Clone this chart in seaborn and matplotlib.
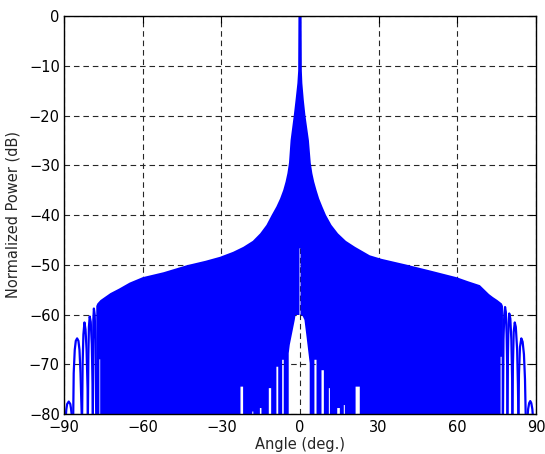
import matplotlib
matplotlib.use("Agg")
import matplotlib.pyplot as plt
import numpy as np
import pandas as pd
import seaborn as sns

# ---------------- data ----------------
x_ticks = [-90, -60, -30, 0, 30, 60, 90]
y_ticks = [-80, -70, -60, -50, -40, -30, -20, -10, 0]

# upper envelope of the dense side-lobe region (angle deg, dB), left -> right
env_angle = [-77.7, -77.3, -76.1, -72.3, -69.0, -65.0, -60.0, -52.0, -43.2, -36.0,
             -30.5, -25.5, -21.6, -18.0, -15.2, -12.8, -10.8, -9.0, -7.6, -6.4,
             -5.5, -4.8, -4.2, -3.6, -2.4, -1.7, -1.0, -0.7, -0.6,
             0.6, 0.7, 0.9, 1.45, 2.1, 3.4, 4.1, 4.7, 5.4, 6.3, 7.3,
             8.6, 9.9, 12.0, 14.5, 17.5, 21.0, 26.6, 31.0, 40.0, 50.0,
             59.7, 64.0, 68.6, 72.1, 73.6, 75.3, 77.0, 77.4]
env_db = [-58.3, -57.8, -57.1, -55.7, -54.8, -53.6, -52.5, -51.5, -50.1, -49.2,
          -48.4, -47.4, -46.4, -45.2, -43.7, -42.0, -40.0, -38.3, -36.7, -35.0,
          -33.3, -31.6, -29.5, -25.0, -20.1, -16.9, -13.5, -11.0, 0.0,
          0.0, -11.0, -13.5, -16.9, -20.1, -25.0, -29.5, -31.6, -33.3, -35.0, -36.7,
          -38.4, -40.0, -42.0, -43.7, -45.2, -46.4, -48.1, -48.8, -49.9, -51.2,
          -52.5, -53.3, -54.1, -55.9, -56.5, -57.1, -57.8, -58.3]

# lower boundary of the dense region (white null gaps), left -> right
low_angle = [-77.7, -76.5, -76.5, -76.2, -76.2,
             -22.7, -22.7, -21.7, -21.7,
             -18.2, -18.2, -17.8, -17.8,
             -15.3, -15.3, -14.7, -14.7,
             -11.9, -11.9, -11.0, -11.0,
             -9.0, -9.0, -8.3, -8.3,
             -6.8, -6.8, -6.2, -6.2,
             -4.3, -4.3, -3.9, -2.0, -1.7, -0.2, -0.2, 0.2, 0.2, 1.0, 1.7, 2.5, 3.7, 3.7,
             5.5, 5.5, 6.3, 6.3,
             8.2, 8.2, 9.1, 9.1,
             11.0, 11.0, 11.4, 11.4,
             14.2, 14.2, 15.2, 15.2,
             16.7, 16.7, 17.1, 17.1,
             21.2, 21.2, 22.8, 22.8,
             76.5, 76.5, 76.9, 76.9, 77.4]
low_db = [-81, -81, -69.0, -69.0, -81,
          -81, -74.5, -74.5, -81,
          -81, -79.5, -79.5, -81,
          -81, -78.8, -78.8, -81,
          -81, -74.8, -74.8, -81,
          -81, -70.5, -70.5, -81,
          -81, -69.1, -69.1, -81,
          -81, -67.8, -66.1, -61.1, -60.1, -60.1, -46.7, -46.7, -60.1, -60.3, -61.1, -64.5, -69.8, -81,
          -81, -69.1, -69.1, -81,
          -81, -71.2, -71.2, -81,
          -81, -74.8, -74.8, -81,
          -81, -78.8, -78.8, -81,
          -81, -78.2, -78.2, -81,
          -81, -74.5, -74.5, -81,
          -81, -68.5, -68.5, -81, -81]

# separated side lobes near endfire (angle, dB)
lobe_left_1 = [(-89.4, -81), (-89.1, -79.0), (-88.8, -78.0), (-88.2, -77.5), (-87.6, -78.0), (-87.3, -79.0), (-86.9, -81)]
lobe_left_2 = [(-86.5, -81), (-86.3, -71.8), (-85.9, -67.1), (-85.5, -65.3), (-85.0, -64.8), (-84.5, -65.3), (-84.1, -67.1), (-83.7, -71.8), (-83.2, -81)]
lobe_left_3 = [(-83.1, -81), (-82.9, -70.0), (-82.6, -64.0), (-82.2, -61.6), (-81.8, -63.0), (-81.4, -67.0), (-81.0, -75.0), (-80.9, -81)]
lobe_left_4 = [(-80.9, -81), (-80.7, -68.0), (-80.5, -62.5), (-80.2, -60.4), (-79.8, -61.5), (-79.4, -66.0), (-79.1, -74.0), (-79.0, -81)]
lobe_left_5 = [(-79.0, -81), (-78.9, -66.0), (-78.8, -61.0), (-78.6, -58.8), (-78.3, -60.0), (-78.0, -65.0), (-77.7, -81)]
lobe_right_5 = [(77.4, -81), (77.6, -65.0), (77.9, -60.0), (78.2, -58.5), (78.5, -59.5), (78.8, -64.0), (79.0, -70.0), (79.1, -81)]
lobe_right_4 = [(79.1, -81), (79.3, -68.0), (79.5, -62.0), (79.8, -59.8), (80.2, -60.8), (80.6, -65.0), (80.9, -73.0), (81.0, -81)]
lobe_right_3 = [(81.0, -81), (81.2, -70.0), (81.5, -63.5), (81.9, -61.6), (82.3, -62.5), (82.8, -67.0), (83.1, -74.0), (83.3, -81)]
lobe_right_2 = [(83.3, -81), (83.5, -72.0), (83.9, -66.5), (84.4, -64.8), (84.9, -65.5), (85.4, -68.0), (85.8, -73.0), (86.1, -81)]
lobe_right_1 = [(86.7, -81), (87.0, -79.0), (87.4, -77.8), (87.8, -77.4), (88.2, -77.8), (88.6, -79.0), (88.9, -81)]

# ---------------- figure ----------------
sns.set_theme(style="white")
plt.rcParams['font.family'] = ['DejaVu Sans']
plt.rcParams['axes.unicode_minus'] = True

BLUE = '#0000ff'
fig = plt.figure(figsize=(5.45, 4.54), dpi=100)
ax = fig.add_axes([64 / 545, 40 / 454, 472 / 545, 398 / 454])

# dense region as a filled polygon
poly_x = list(env_angle) + list(low_angle[::-1])
poly_y = list(env_db) + list(low_db[::-1])
ax.fill(poly_x, poly_y, color=BLUE, lw=0, zorder=2)

# separated lobes
lobes = {'L1': lobe_left_1, 'L2': lobe_left_2, 'L3': lobe_left_3, 'L4': lobe_left_4, 'L5': lobe_left_5,
         'R5': lobe_right_5, 'R4': lobe_right_4, 'R3': lobe_right_3, 'R2': lobe_right_2, 'R1': lobe_right_1}
rows = []
for name, pts in lobes.items():
    for a, d in pts:
        rows.append({'lobe': name, 'angle': a, 'db': d})
df = pd.DataFrame(rows)
sns.lineplot(data=df, x='angle', y='db', units='lobe', estimator=None, sort=False,
             color=BLUE, lw=1.6, ax=ax, legend=False, zorder=3)

ax.set_xlim(-90, 90)
ax.set_ylim(-80, 0)
ax.set_xticks(x_ticks)
ax.set_yticks(y_ticks)
ax.set_axisbelow(True)
ax.grid(True, color='0.15', lw=0.8, ls=(0, (5, 3.5)))
for s in ax.spines.values():
    s.set_color('black')
    s.set_linewidth(1.0)
    s.set_zorder(5)
ax.tick_params(direction='in', length=5, width=0.8, top=True, right=True,
               labelsize=10.5, colors='black')
ax.tick_params(axis='x', pad=4)
ax.tick_params(axis='y', pad=3)
ax.set_xlabel('Angle (deg.)', fontsize=10.5, labelpad=2)
ax.set_ylabel('Normalized Power (dB)', fontsize=10.5, labelpad=6)

fig.savefig('out.png', dpi=100)
